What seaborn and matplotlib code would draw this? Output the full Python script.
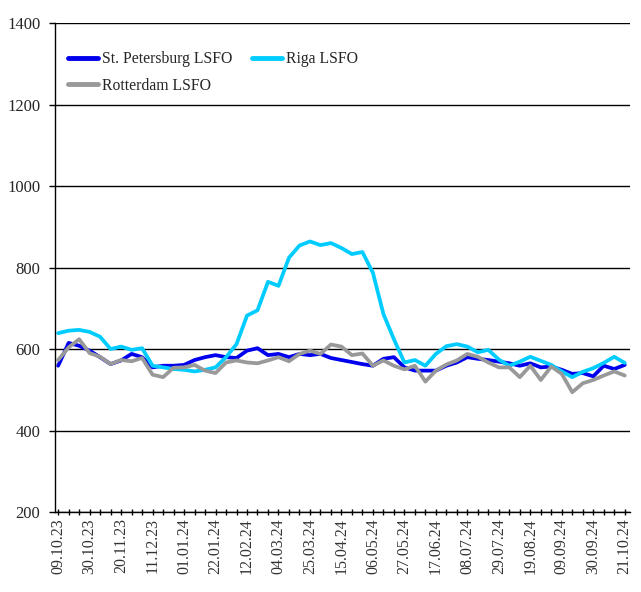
import numpy as np
import pandas as pd
import matplotlib
matplotlib.use("Agg")
import matplotlib.pyplot as plt
import seaborn as sns

# Weekly prices, 09.10.23 .. 21.10.24 (55 weeks)
spb = [559, 615, 608, 596, 580, 563, 572, 588, 580, 555,
       559, 559, 561, 573, 580, 585, 580, 578, 596, 602,
       585, 588, 580, 588, 585, 588, 578, 573, 568, 563,
       559, 576, 580, 555, 547, 547, 547, 559, 567, 580,
       576, 573, 569, 565, 559, 565, 555, 557, 549, 539,
       541, 533, 559, 551, 561]
riga = [639, 645, 647, 642, 630, 600, 606, 598, 602, 559,
        555, 551, 549, 545, 549, 555, 580, 612, 682, 695,
        765, 755, 824, 854, 864, 855, 860, 848, 833, 838,
        787, 686, 624, 567, 573, 559, 588, 607, 612, 606,
        592, 598, 574, 559, 569, 581, 571, 561, 545, 531,
        544, 553, 566, 581, 566]
rotterdam = [573, 604, 624, 590, 581, 563, 573, 570, 578, 537,
             531, 554, 555, 561, 547, 541, 567, 572, 567, 565,
             572, 580, 570, 588, 596, 588, 611, 606, 585, 589,
             559, 572, 559, 550, 559, 520, 547, 562, 572, 588,
             581, 567, 555, 555, 531, 559, 524, 557, 539, 494,
             516, 524, 535, 545, 535]

tick_labels = ["09.10.23", "30.10.23", "20.11.23", "11.12.23", "01.01.24",
               "22.01.24", "12.02.24", "04.03.24", "25.03.24", "15.04.24",
               "06.05.24", "27.05.24", "17.06.24", "08.07.24", "29.07.24",
               "19.08.24", "09.09.24", "30.09.24", "21.10.24"]

names = ["St. Petersburg LSFO", "Riga LSFO", "Rotterdam LSFO"]
colors = ["#0000EE", "#00CCFF", "#999999"]

week = np.arange(len(spb))
df = pd.DataFrame({
    "week": np.concatenate([week, week, week]),
    "price": spb + riga + rotterdam,
    "series": [names[0]] * len(spb) + [names[1]] * len(riga) + [names[2]] * len(rotterdam),
})

sns.set_style("white")
plt.rcParams["font.family"] = ["Liberation Serif", "DejaVu Serif"]

fig = plt.figure(figsize=(6.41, 5.92), dpi=100)
ax = fig.add_axes([0.0858, 0.1351, 0.8970, 0.8260])

sns.lineplot(data=df, x="week", y="price", hue="series", hue_order=names,
             palette=colors, linewidth=2.7, ax=ax, legend=False)

ax.set_ylim(200, 1400)
ax.set_yticks(range(200, 1401, 200))
ax.set_xlim(-0.3, 54.5)
ax.set_xticks(week, minor=True)
ax.set_xticks(week[::3])
ax.set_xticklabels(tick_labels, rotation=90)
ax.set_xlabel("")
ax.set_ylabel("")

ax.grid(axis="y", color="black", linewidth=1.0)
ax.set_axisbelow(True)
for s in ["top", "right"]:
    ax.spines[s].set_visible(False)
for s in ["left", "bottom"]:
    ax.spines[s].set_color("black")
    ax.spines[s].set_linewidth(1.0)

ax.tick_params(axis="y", which="major", direction="out", length=4.5, width=1,
               color="black", labelsize=12, pad=6, left=True)
ax.tick_params(axis="x", which="both", direction="inout", length=5, width=1,
               color="black", bottom=True)
ax.tick_params(axis="x", which="major", labelsize=11.5, labelcolor="#333333", pad=2)

# legend, row-major order
handles = [plt.Line2D([], [], color=c, linewidth=3.5) for c in colors]
order = [0, 2, 1]
ax.legend([handles[i] for i in order], [names[i] for i in order],
          ncol=2, frameon=False, loc="upper left", bbox_to_anchor=(0.023, 0.942),
          borderaxespad=0, borderpad=0, fontsize=11.3, handlelength=1.9,
          handletextpad=0.25, columnspacing=1.25, labelspacing=0.65)

fig.savefig("out.png", dpi=100)
